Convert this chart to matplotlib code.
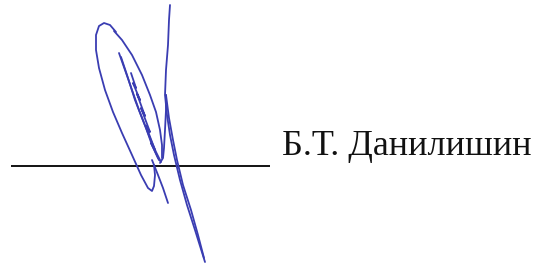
import matplotlib
matplotlib.use('Agg')
import matplotlib.pyplot as plt

# signature name printed after the line
name = 'Б.Т. Данилишин'

# signature strokes, in image pixel coordinates (x, y from top-left)
outer_loop = [(116, 32), (110, 25), (104, 23), (99, 26), (96, 35), (96, 50), (99, 68),
              (105, 90), (113, 112), (122, 133), (132, 155), (141, 175), (148, 188),
              (152, 191), (154, 186), (155, 175), (154, 165)]
loop_right = [(114, 31), (122, 40), (132, 55), (142, 75), (150, 95), (156, 112),
              (160, 130), (162, 145), (162, 158)]
inner_stroke = [(119, 53), (125, 70), (132, 90), (139, 110), (146, 128), (152, 145),
                (158, 158), (161, 162)]
inner_stroke2 = [(121, 57), (128, 78), (135, 100), (142, 118), (150, 138), (156, 152),
                 (160, 160)]
scribble = [(131, 73), (136, 88), (133, 83), (140, 100), (137, 94), (145, 116),
            (141, 108), (150, 132), (146, 126), (155, 150), (151, 143), (159, 160)]
tail = [(152, 160), (158, 175), (163, 188), (168, 203)]
hook = [(160, 163), (163, 158), (164, 148), (165, 130), (166, 110), (166, 95)]
long_stroke = [(170, 5), (169, 20), (168, 45), (166, 70), (165, 95), (167, 115),
               (170, 135), (174, 155), (180, 180), (187, 205), (195, 230), (205, 262)]
long_parallel = [(166, 95), (169, 118), (173, 140), (177, 160), (183, 185),
                 (191, 210), (198, 235), (204, 258)]

strokes = [outer_loop, loop_right, inner_stroke, inner_stroke2, scribble, tail, hook,
           long_stroke, long_parallel]

line_x = [11, 270]
line_y = [166, 166]

fig = plt.figure(figsize=(5.51, 2.64), dpi=100)
ax = fig.add_axes([0, 0, 1, 1])
ax.set_xlim(0, 551)
ax.set_ylim(264, 0)
ax.axis('off')

ax.plot(line_x, line_y, color='black', lw=1.3, solid_capstyle='butt')

for s in strokes:
    xs = [p[0] for p in s]
    ys = [p[1] for p in s]
    ax.plot(xs, ys, color='#3a3db2', lw=1.3, solid_joinstyle='round',
            solid_capstyle='round')

ax.text(282, 155, name, fontsize=26, family='Liberation Serif', color='#111111',
        ha='left', va='baseline')

fig.savefig('out.png', dpi=100)
